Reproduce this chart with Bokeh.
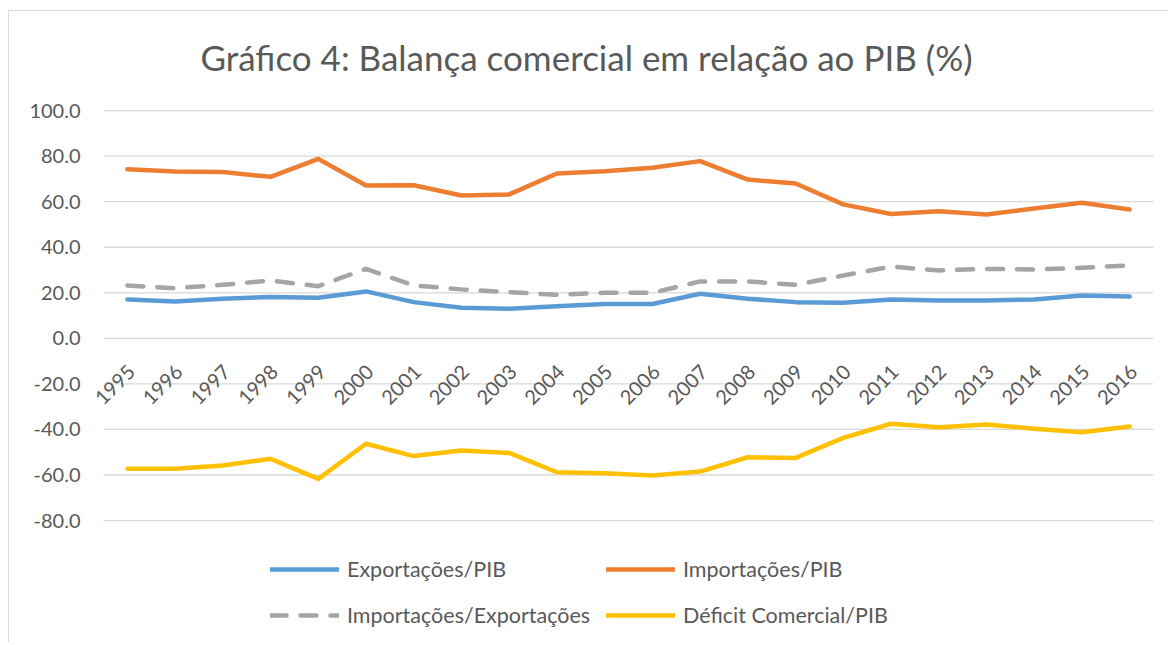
import math
from bokeh.plotting import figure
from bokeh.models import Range1d, Legend, LegendItem, ColumnDataSource
from bokeh.core.properties import value
from bokeh.embed import file_html
from bokeh.resources import INLINE

# ---- data ----
years = [1995, 1996, 1997, 1998, 1999, 2000, 2001, 2002, 2003, 2004, 2005,
         2006, 2007, 2008, 2009, 2010, 2011, 2012, 2013, 2014, 2015, 2016]
year_labels = ["1995", "1996", "1997", "1998", "1999", "2000", "2001", "2002",
               "2003", "2004", "2005", "2006", "2007", "2008", "2009", "2010",
               "2011", "2012", "2013", "2014", "2015", "2016"]
exportacoes_pib = [17.1, 16.2, 17.4, 18.2, 17.8, 20.6, 15.9, 13.4, 13.0, 14.1, 15.1,
                   15.1, 19.6, 17.4, 15.9, 15.6, 17.1, 16.6, 16.6, 17.1, 18.8, 18.4]
importacoes_pib = [74.2, 73.3, 73.0, 70.9, 78.8, 67.1, 67.2, 62.7, 63.2, 72.4, 73.4,
                   74.9, 77.8, 69.7, 68.0, 58.8, 54.6, 55.8, 54.4, 57.0, 59.5, 56.6]
importacoes_exportacoes = [23.2, 22.0, 23.5, 25.4, 22.9, 30.5, 23.2, 21.5, 20.3, 19.1, 20.0,
                           20.0, 25.0, 25.0, 23.5, 27.6, 31.5, 29.8, 30.5, 30.2, 31.0, 32.0]
deficit_pib = [-57.3, -57.3, -55.8, -52.9, -61.7, -46.3, -51.7, -49.2, -50.3, -58.8, -59.2,
               -60.2, -58.5, -52.2, -52.5, -43.7, -37.5, -39.0, -37.8, -39.7, -41.2, -38.7]
series_names = ["Exportações/PIB", "Importações/PIB",
                "Importações/Exportações", "Déficit Comercial/PIB"]
y_ticks = [-80, -60, -40, -20, 0, 20, 40, 60, 80, 100]
y_tick_labels = ["-80.0", "-60.0", "-40.0", "-20.0", "0.0",
                 "20.0", "40.0", "60.0", "80.0", "100.0"]
title_text = "Gráfico 4: Balança comercial em relação ao PIB (%)"

# category axis extent (half a category beyond first/last year)
x_min, x_max = 1994.5, 2016.5

FONT = "Lato"
TXT = "#595959"
GRID = "#d9d9d9"

# the frame covers the whole chart area so that no text or legend is clipped
p = figure(width=1160, height=632, output_backend="svg", toolbar_location=None,
           x_range=Range1d(1992.53, x_max), y_range=Range1d(-133.1, 143.5),
           x_axis_location=None, y_axis_location=None,
           min_border_left=0, min_border_right=16,
           min_border_top=0, min_border_bottom=2)
p.outline_line_color = None
p.background_fill_color = "white"
p.border_fill_color = "white"
p.xgrid.visible = False
p.ygrid.visible = False
p.styles = {"margin-left": "8px", "margin-top": "10px",
            "border-left": "1px solid #d9d9d9", "border-top": "1px solid #d9d9d9"}

# title, placed above the top grid line
p.text(x=[(x_min + x_max) / 2], y=[y_ticks[-1]], text=[title_text],
       x_offset=-42, y_offset=-54, text_align="center", text_baseline="middle",
       text_font=value(FONT), text_font_size="35px", text_color=TXT)

# horizontal grid lines
p.segment(x0=[x_min] * len(y_ticks), x1=[x_max] * len(y_ticks), y0=y_ticks, y1=y_ticks,
          line_color=GRID, line_width=1.3)

# y tick labels
ysrc = ColumnDataSource(dict(x=[x_min] * len(y_ticks), y=y_ticks, t=y_tick_labels))
p.text(x="x", y="y", text="t", source=ysrc, x_offset=-23,
       text_align="right", text_baseline="middle",
       text_font=value(FONT), text_font_size="20px", text_color=TXT)

# x labels at the zero line, rotated
lab_src = ColumnDataSource(dict(x=years, y=[0] * len(years), t=year_labels))
p.text(x="x", y="y", text="t", source=lab_src, angle=math.pi / 4,
       text_align="right", text_baseline="middle", x_offset=4, y_offset=30,
       text_font=value(FONT), text_font_size="20px", text_color=TXT)

lw = 4.5
r1 = p.line(years, exportacoes_pib, line_color="#5B9BD5", line_width=lw,
            line_cap="round", line_join="round")
r2 = p.line(years, importacoes_pib, line_color="#ED7D31", line_width=lw,
            line_cap="round", line_join="round")
r3 = p.line(years, importacoes_exportacoes, line_color="#A5A5A5", line_width=lw,
            line_cap="round", line_join="round", line_dash="16 14")
r4 = p.line(years, deficit_pib, line_color="#FFC000", line_width=lw,
            line_cap="round", line_join="round")

locs = [(261, 59), (597, 59), (261, 13), (597, 13)]
for r, name, loc in zip([r1, r2, r3, r4], series_names, locs):
    leg = Legend(items=[LegendItem(label=name, renderers=[r])], location=loc,
                 orientation="horizontal", padding=0, margin=0, spacing=0,
                 border_line_color=None, background_fill_alpha=0,
                 glyph_width=69, glyph_height=20, label_height=20,
                 label_standoff=8, label_text_font=FONT,
                 label_text_font_size="21.5px", label_text_color=TXT)
    p.add_layout(leg, "center")

open("out.html", "w").write(file_html(p, INLINE))
